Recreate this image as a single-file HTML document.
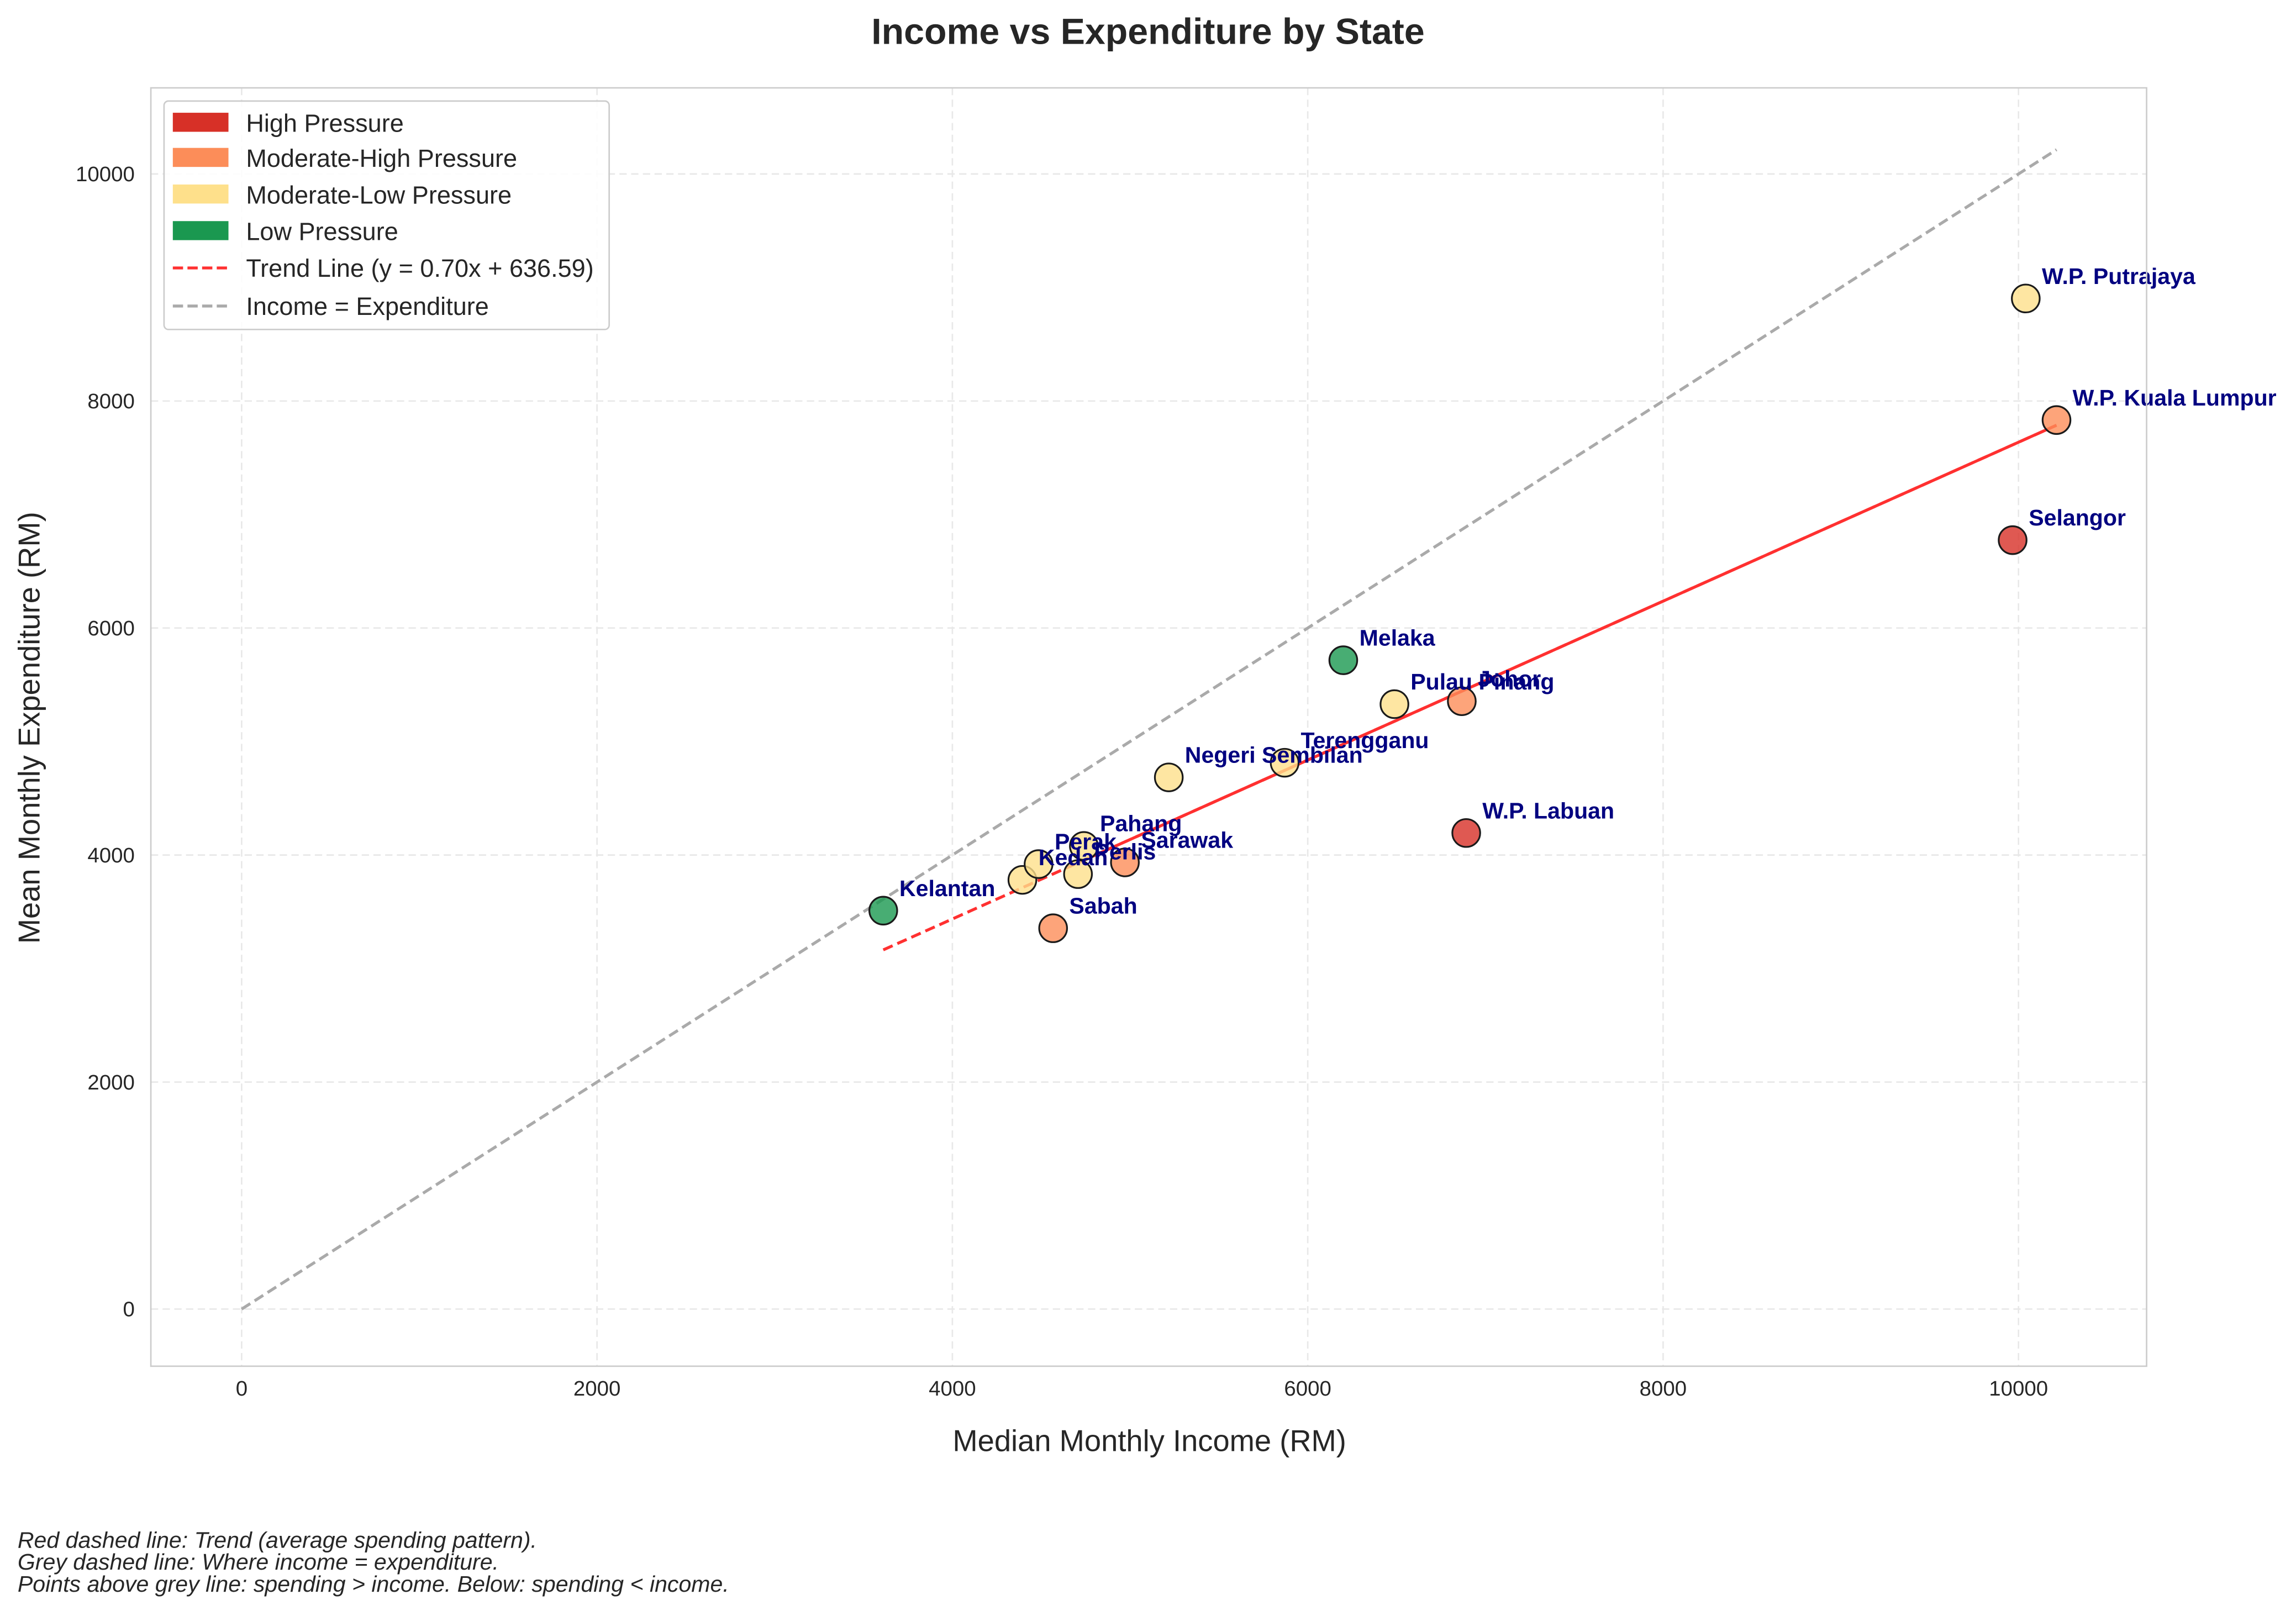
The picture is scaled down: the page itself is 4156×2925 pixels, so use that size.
<!DOCTYPE html>
<html><head><meta charset="utf-8"><style>
html,body{margin:0;padding:0;background:#fff;}
svg{display:block;font-family:"Liberation Sans",Arial,sans-serif;}
</style></head><body>
<svg id="chart" width="4156" height="2925" viewBox="0 0 1568 1103.6" xmlns="http://www.w3.org/2000/svg">
<rect x="0" y="0" width="1568" height="1104" fill="#fff"/>
<text x="784" y="30" text-anchor="middle" font-size="25" font-weight="bold" fill="#262626">Income vs Expenditure by State</text>
<g id="grid"></g>
<g id="lines"></g>
<g id="points"></g>
<g id="labels"></g>
<rect x="103" y="60" width="1363" height="873" fill="none" stroke="#ccc" stroke-width="1"/>
<g id="ticks"></g>
<text x="785" y="991" text-anchor="middle" font-size="20.5" fill="#262626">Median Monthly Income (RM)</text>
<text transform="translate(27,497) rotate(-90)" text-anchor="middle" font-size="20.5" fill="#262626">Mean Monthly Expenditure (RM)</text>
<g>
<rect x="112" y="69" width="304" height="156" rx="3" fill="#fff" fill-opacity="0.85" stroke="#ccc"/>
<rect x="118" y="77" width="38" height="13" fill="#d73027"/><text x="168" y="90" font-size="17" fill="#262626">High Pressure</text>
<rect x="118" y="101" width="38" height="13" fill="#fc8d59"/><text x="168" y="114" font-size="17" fill="#262626">Moderate-High Pressure</text>
<rect x="118" y="126" width="38" height="13" fill="#fee08b"/><text x="168" y="139" font-size="17" fill="#262626">Moderate-Low Pressure</text>
<rect x="118" y="151" width="38" height="13" fill="#1a9850"/><text x="168" y="164" font-size="17" fill="#262626">Low Pressure</text>
<line x1="118" y1="183" x2="156" y2="183" stroke="#ff3030" stroke-width="2" stroke-dasharray="7,3"/><text x="168" y="189" font-size="17" fill="#262626">Trend Line (y = 0.70x + 636.59)</text>
<line x1="118" y1="209" x2="156" y2="209" stroke="#aaa" stroke-width="2" stroke-dasharray="7,3"/><text x="168" y="215" font-size="17" fill="#262626">Income = Expenditure</text>
</g>
<g font-size="15.5" font-style="italic" fill="#262626">
<text x="12" y="1057">Red dashed line: Trend (average spending pattern).</text>
<text x="12" y="1072">Grey dashed line: Where income = expenditure.</text>
<text x="12" y="1087">Points above grey line: spending &gt; income. Below: spending &lt; income.</text>
</g>
</svg>
<script>
const states = ["Kelantan","Kedah","Perak","Pahang","Perlis","Sarawak","Sabah","Negeri Sembilan","Terengganu","Melaka","Pulau Pinang","Johor","W.P. Labuan","Selangor","W.P. Putrajaya","W.P. Kuala Lumpur"];
const income = [3611,4394,4485,4740,4707,4971,4567,5218,5870,6200,6488,6867,6892,9967,10041,10214];
const expenditure = [3510,3781,3920,4080,3832,3935,3355,4684,4813,5716,5329,5355,4194,6774,8903,7832];
const pressure = ["low","modlow","modlow","modlow","modlow","modhigh","modhigh","modlow","modlow","low","modlow","modhigh","high","high","modlow","modhigh"];
const xTicks = [0,2000,4000,6000,8000,10000];
const yTicks = [0,2000,4000,6000,8000,10000];
const trendSlope = 0.70, trendIntercept = 636.59;

const NS="http://www.w3.org/2000/svg";
const X = v => 165 + v*0.12135;
const Y = v => 894 - v*0.07752;
const colors = {high:"#d73027",modhigh:"#fc8d59",modlow:"#fee08b",low:"#1a9850"};
function mk(tag, attrs, parent){const e=document.createElementNS(NS,tag);for(const k in attrs)e.setAttribute(k,attrs[k]);document.getElementById(parent).appendChild(e);return e;}

xTicks.forEach(t=>{
  const g=mk("line",{x1:X(t),x2:X(t),y1:60,y2:933,stroke:"#e8e8e8","stroke-dasharray":"5,3","stroke-width":1},"grid");
  
  
  const l=mk("text",{x:X(t),y:953,"text-anchor":"middle","font-size":14.5,fill:"#262626"},"ticks");
  l.textContent=t;
  
  
});
yTicks.forEach(t=>{
  const g=mk("line",{x1:103,x2:1466,y1:Y(t),y2:Y(t),stroke:"#e8e8e8","stroke-dasharray":"5,3","stroke-width":1},"grid");
  
  
  const l=mk("text",{x:92,y:Y(t)+5,"text-anchor":"end","font-size":14.5,fill:"#262626"},"ticks");
  l.textContent=t;
  
  
});
const maxV=Math.max(...income);
const idl=mk("line",{x1:X(0),y1:Y(0),x2:X(maxV),y2:Y(maxV),stroke:"#aaa","stroke-width":2,"stroke-dasharray":"7,3.5"},"lines");


const xmin=Math.min(...income), xmax=Math.max(...income);
const tr=mk("line",{x1:X(xmin),y1:Y(trendSlope*xmin+trendIntercept),x2:X(xmax),y2:Y(trendSlope*xmax+trendIntercept),stroke:"#ff3030","stroke-width":2,"stroke-dasharray":"7,3.5"},"lines");


const xs=4700;
const trs=mk("line",{x1:X(xs),y1:Y(trendSlope*xs+trendIntercept),x2:X(xmax),y2:Y(trendSlope*xmax+trendIntercept),stroke:"#ff3030","stroke-width":2},"lines");



states.forEach((s,i)=>{
  const c=mk("circle",{cx:X(income[i]),cy:Y(expenditure[i]),r:9.5,fill:colors[pressure[i]],"fill-opacity":0.8,stroke:"#1a1a1a","stroke-width":1.2},"points");
  
  
  const t=mk("text",{x:X(income[i])+11,y:Y(expenditure[i])-10,"font-size":15.5,"font-weight":"bold",fill:"#000080"},"labels");
  t.textContent=s;
  
  
});
</script>
</body></html>
